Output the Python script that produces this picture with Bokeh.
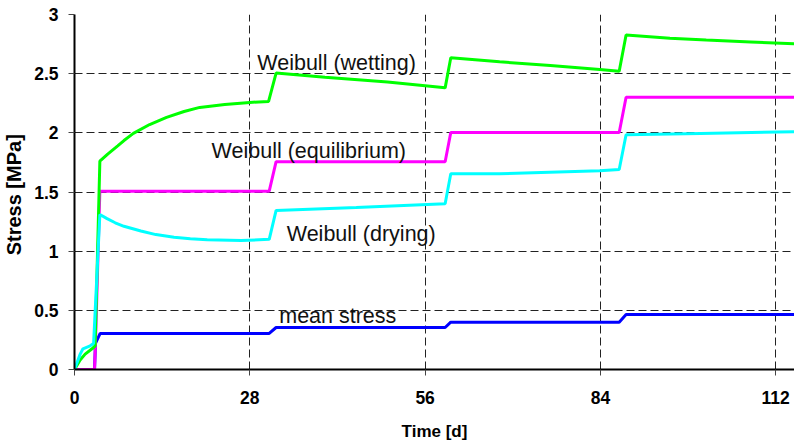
from bokeh.plotting import figure
from bokeh.models import Range1d, FixedTicker, Label
from bokeh.embed import file_html
from bokeh.resources import INLINE

# ---- data ----
wet_t = [0, 0.9, 1.7, 2.8, 3.3, 4.05, 5.3, 6.9, 7.9, 9.4, 12, 14.7, 17.5, 20, 24, 28, 31,
         32.2, 40, 50, 59.2, 60.1, 67.9, 76, 83.9, 87, 88.1, 95.1, 100.9, 108, 115]
wet_s = [0, 0.08, 0.13, 0.175, 0.2, 1.76, 1.82, 1.89, 1.935, 1.995, 2.07, 2.13, 2.18, 2.215, 2.24, 2.257, 2.265,
         2.505, 2.47, 2.43, 2.38, 2.635, 2.60, 2.568, 2.536, 2.52, 2.826, 2.80, 2.784, 2.768, 2.752]

eq_t = [0, 3.2, 3.35, 4.05, 31.1, 32.2, 59.2, 60.1, 87, 88.1, 115]
eq_s = [0, 0, 0.22, 1.507, 1.507, 1.756, 1.756, 2.003, 2.003, 2.30, 2.30]

dry_t = [0, 0.91, 1.35, 2.5, 3.05, 4.05, 5.2, 6.5, 7.9, 10.6, 13, 15.9, 18.5, 21.2, 26.6, 31.1,
         32.2, 45, 59.2, 60.1, 67.9, 83.9, 87, 88.1, 100, 115]
dry_s = [0, 0.13, 0.175, 0.2, 0.22, 1.31, 1.275, 1.24, 1.21, 1.17, 1.14, 1.118, 1.105, 1.096, 1.09, 1.10,
         1.344, 1.37, 1.40, 1.654, 1.654, 1.68, 1.69, 1.984, 1.995, 2.01]

mean_t = [0, 3.2, 3.35, 4.1, 31.1, 32.2, 59.2, 60.1, 87, 88.1, 115]
mean_s = [0, 0, 0.22, 0.305, 0.305, 0.355, 0.355, 0.40, 0.40, 0.465, 0.465]

x_ticks = [0, 28, 56, 84, 112]
y_ticks = [0, 0.5, 1, 1.5, 2, 2.5, 3]

labels = ["Weibull (wetting)", "Weibull (equilibrium)", "Weibull (drying)", "mean stress"]
label_x = [29.2, 21.9, 33.9, 32.7]
label_y = [2.586, 1.85, 1.149, 0.448]

p = figure(width=794, height=443, output_backend="svg", toolbar_location=None,
           x_range=Range1d(0, 115), y_range=Range1d(0, 3.0),
           min_border_left=74, min_border_right=0, min_border_top=14, min_border_bottom=74)
p.outline_line_color = None
p.background_fill_color = "white"
p.border_fill_color = "white"

# axes
p.xaxis.ticker = FixedTicker(ticks=x_ticks)
p.yaxis.ticker = FixedTicker(ticks=y_ticks)
p.yaxis.major_label_overrides = {0: "0", 0.5: "0.5", 1: "1", 1.5: "1.5", 2: "2", 2.5: "2.5", 3: "3"}
for ax in (p.xaxis[0], p.yaxis[0]):
    ax.axis_line_color = "black"
    ax.axis_line_width = 2
    ax.major_tick_line_color = "#444444"
    ax.major_tick_in = 0
    ax.major_tick_out = 6
    ax.minor_tick_line_color = None
    ax.major_label_text_font = "Liberation Sans"
    ax.major_label_text_font_style = "bold"
    ax.major_label_text_font_size = "17.5px"
    ax.major_label_text_color = "black"
    ax.axis_label_text_font = "Liberation Sans"
    ax.axis_label_text_font_style = "bold"
    ax.axis_label_text_color = "black"
p.xaxis.axis_label = "Time [d]"
p.xaxis.axis_label_text_font_size = "17px"
p.xaxis.major_label_standoff = 15
p.xaxis.axis_label_standoff = 15
p.yaxis.axis_label = "Stress  [MPa]"
p.yaxis.axis_label_text_font_size = "20px"
p.yaxis.major_label_standoff = 10
p.yaxis.axis_label_standoff = 6

# grid
for g in (p.xgrid[0], p.ygrid[0]):
    g.grid_line_color = "#222222"
    g.grid_line_dash = "8 4"
    g.grid_line_width = 1
p.xgrid.ticker = FixedTicker(ticks=[28, 56, 84, 112])
p.ygrid.ticker = FixedTicker(ticks=[0.5, 1, 1.5, 2, 2.5, 3])

# series
p.line(mean_t, mean_s, line_color="#0000FF", line_width=3)
p.line(eq_t, eq_s, line_color="#FF00FF", line_width=3)
p.line(wet_t, wet_s, line_color="#00FF00", line_width=3)
p.line(dry_t, dry_s, line_color="#00FFFF", line_width=3)

for txt, lx, ly in zip(labels, label_x, label_y):
    p.add_layout(Label(x=lx, y=ly, text=txt, text_font="Liberation Sans",
                       text_font_size="21.5px", text_color="#111111",
                       text_baseline="middle", text_align="left"))

open("out.html", "w").write(file_html(p, INLINE))
